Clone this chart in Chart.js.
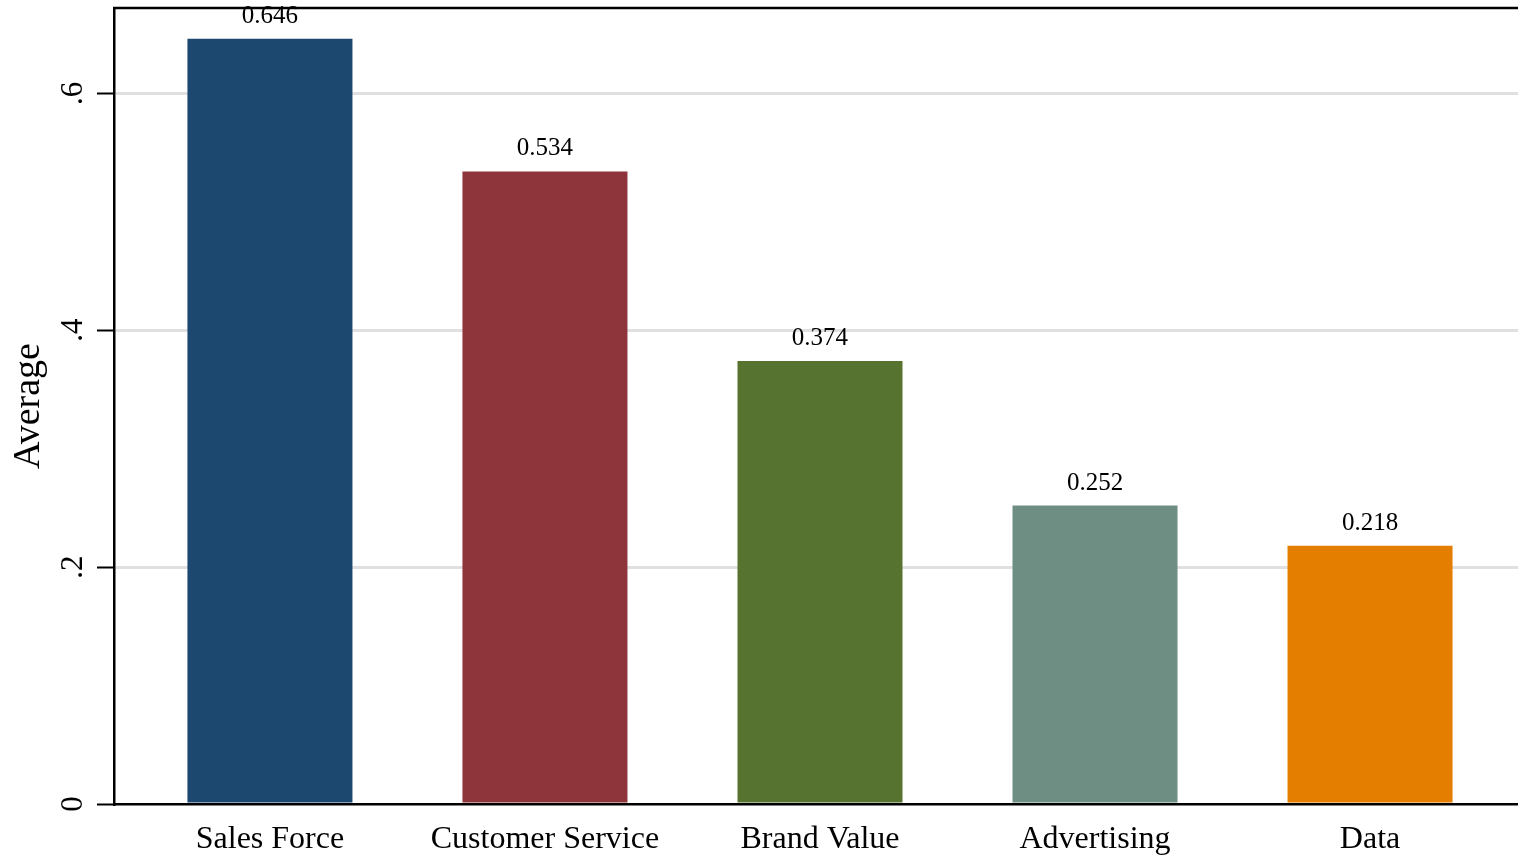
<!DOCTYPE html>
<html>
<head>
<meta charset="utf-8">
<title>Average by category</title>
<script src="https://cdn.jsdelivr.net/npm/chart.js@4/dist/chart.umd.min.js"></script>
<style>
  html, body { margin: 0; padding: 0; background: #fff; }
  #wrap { width: 1518px; height: 856px; }
</style>
</head>
<body>
<div id="wrap"><canvas id="avgChart"></canvas></div>
<script>
const categories = ['Sales Force', 'Customer Service', 'Brand Value', 'Advertising', 'Data'];
const averages = [0.646, 0.534, 0.374, 0.252, 0.218];
const barColors = ['#1c476f', '#8e353c', '#56742f', '#6e8e83', '#e37e00'];
const yTicks = [0, 0.2, 0.4, 0.6];
const yTickLabels = ['0', '.2', '.4', '.6'];

const serif = '"Liberation Serif", "Times New Roman", serif';

// value label above each bar
const barValues = {
  id: 'barValues',
  afterDatasetsDraw(chart) {
    const ctx = chart.ctx;
    ctx.save();
    ctx.font = '25px ' + serif;
    ctx.fillStyle = '#000';
    ctx.textAlign = 'center';
    ctx.textBaseline = 'alphabetic';
    chart.getDatasetMeta(0).data.forEach((bar, i) => {
      ctx.fillText(averages[i].toFixed(3), bar.x, bar.y - 16);
    });
    ctx.restore();
  }
};

// rotated y tick labels + top frame line
const frame = {
  id: 'frame',
  afterDraw(chart) {
    const ctx = chart.ctx;
    const y = chart.scales.y;
    const area = chart.chartArea;
    ctx.save();
    ctx.font = '31px ' + serif;
    ctx.fillStyle = '#000';
    ctx.textAlign = 'center';
    ctx.textBaseline = 'middle';
    yTicks.forEach((v, i) => {
      ctx.save();
      ctx.translate(74, y.getPixelForValue(v));
      ctx.rotate(-Math.PI / 2);
      ctx.fillText(yTickLabels[i], 0, 0);
      ctx.restore();
    });
    ctx.strokeStyle = '#000';
    ctx.lineWidth = 2.5;
    ctx.beginPath();
    ctx.moveTo(area.left - 1, area.top);
    ctx.lineTo(area.right, area.top);
    ctx.stroke();
    ctx.restore();
  }
};

new Chart(document.getElementById('avgChart'), {
  type: 'bar',
  data: {
    datasets: [{
      data: averages.map((v, i) => ({ x: i + 1, y: v })),
      backgroundColor: barColors,
      borderColor: barColors,
      borderWidth: 0,
      borderSkipped: false,
      barPercentage: 0.6,
      categoryPercentage: 1
    }]
  },
  options: {
    responsive: true,
    maintainAspectRatio: false,
    animation: false,
    layout: { padding: { top: 8, right: 0, left: 0, bottom: 0 } },
    plugins: {
      legend: { display: false },
      tooltip: { enabled: false }
    },
    scales: {
      x: {
        type: 'linear',
        offset: false,
        min: 0.433,
        max: 5.538,
        afterBuildTicks: s => { s.ticks = categories.map((c, i) => ({ value: i + 1 })); },
        afterFit: s => { s.height = 52; },
        grid: { display: false, drawTicks: false },
        border: { color: '#000', width: 2.5 },
        ticks: {
          color: '#000',
          font: { family: serif, size: 32 },
          padding: 16,
          maxRotation: 0,
          callback: v => categories[v - 1]
        }
      },
      y: {
        min: 0,
        max: 0.672,
        afterBuildTicks: s => { s.ticks = yTicks.map(v => ({ value: v })); },
        afterFit: s => { s.width = 114; },
        border: { color: '#000', width: 2.5 },
        grid: {
          color: c => c.tick && c.tick.value === 0 ? 'rgba(0,0,0,0)' : '#e0e0e0',
          lineWidth: 3,
          tickColor: '#000',
          tickLength: 17,
          tickWidth: 2
        },
        ticks: { display: true, color: 'rgba(0,0,0,0)', font: { size: 1 }, callback: () => '' },
        title: {
          display: true,
          text: 'Average',
          color: '#000',
          font: { family: serif, size: 38 },
          padding: { top: 6, bottom: 0 }
        }
      }
    }
  },
  plugins: [barValues, frame]
});
</script>
</body>
</html>
